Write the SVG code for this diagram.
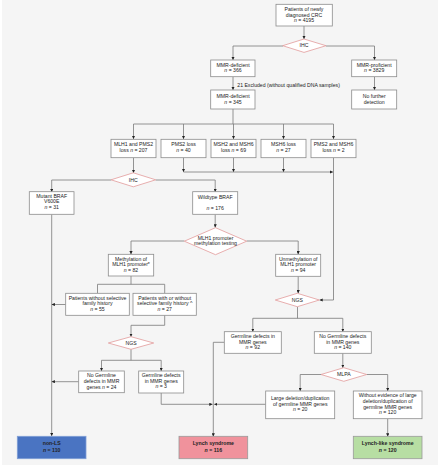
<svg xmlns="http://www.w3.org/2000/svg" width="441" height="465" viewBox="0 0 441 465">
<defs>
<marker id="ah" viewBox="0 0 10 10" refX="10" refY="5" markerWidth="3.2" markerHeight="3.2" markerUnits="userSpaceOnUse" orient="auto">
<path d="M0,0 L10,5 L0,10 z" fill="#222"/>
</marker>
<style>
.bx{fill:#fff;stroke:#8c8c8c;stroke-width:0.8}
.dm{fill:#fff;stroke:#e29a9a;stroke-width:0.8}
.c{fill:none;stroke:#7a7a7a;stroke-width:0.8}
.a{marker-end:url(#ah)}
text{font-family:"Liberation Sans",Arial,sans-serif;font-size:5.15px;fill:#222;text-anchor:middle}
.i{font-style:italic}
.b{font-weight:bold;font-size:5.2px}
.l{text-anchor:start}
</style>
</defs>
<rect x="2" y="0" width="436" height="465" fill="#f5f5f5"/>

<g id="connectors">
<path class="c a" d="M304,26 V39"/>
<path class="c a" d="M283,46 H233 V60"/>
<path class="c a" d="M326,46 H374.5 V60"/>
<path class="c a" d="M233,77 V90"/>
<path class="c a" d="M374.5,77 V90"/>
<path class="c" d="M233,109 V124"/>
<path class="c" d="M133.5,124 H333.5"/>
<path class="c a" d="M133.5,124 V139"/>
<path class="c a" d="M183.5,124 V139"/>
<path class="c a" d="M233.5,124 V139"/>
<path class="c a" d="M283.5,124 V139"/>
<path class="c a" d="M333.5,124 V139"/>
<path class="c a" d="M133.5,157.5 V173"/>
<path class="c a" d="M183.5,157.5 V172"/>
<path class="c a" d="M233.5,157.5 V172"/>
<path class="c a" d="M283.5,157.5 V172"/>
<path class="c a" d="M183.5,172 H333"/>
<path class="c a" d="M333.5,157.5 V300 H319.5"/>
<path class="c a" d="M111,180 H51.7 V192"/>
<path class="c a" d="M155.7,180 H215.2 V192"/>
<path class="c a" d="M51.7,214.5 V436"/>
<path class="c a" d="M215.2,214.5 V227.5"/>
<path class="c a" d="M184.3,241 H131 V254.3"/>
<path class="c a" d="M246.7,241 H298.2 V254.3"/>
<path class="c a" d="M298.2,276.3 V293.3"/>
<path class="c" d="M131,276 V284.3 M97.5,284.3 H164.7 M97.5,284.3 V293.3 M164.7,284.3 V293.3"/>
<path class="c a" d="M65.7,304.5 H51.7"/>
<path class="c a" d="M164.7,315.3 V325.3 H131 V336.7"/>
<path class="c" d="M131,349.3 V360.3 M101.5,360.3 H161.2"/>
<path class="c a" d="M101.5,360.3 V371"/>
<path class="c a" d="M161.2,360.3 V371"/>
<path class="c a" d="M78.7,381.7 H51.7"/>
<path class="c a" d="M161.2,393 V404.3 H212.5"/>
<path class="c a" d="M265.7,404.3 H214.2"/>
<path class="c a" d="M224.3,342.3 H213.3 V436.5"/>
<path class="c" d="M297.5,306.7 V318.3 M252.8,318.3 H342.8"/>
<path class="c a" d="M252.8,318.3 V331.7"/>
<path class="c a" d="M342.8,318.3 V331.7"/>
<path class="c a" d="M342.8,353.3 V367.7"/>
<path class="c a" d="M321,374.5 H300.2 V391"/>
<path class="c a" d="M366.7,374.5 H387.7 V391"/>
<path class="c a" d="M387.7,418.7 V436.5"/>
</g>

<g id="n_start"><rect class="bx" x="276" y="4.3" width="56.3" height="21.7"/>
<text x="304" y="11">Patients of newly</text><text x="304" y="16.7">diagnosed CRC</text><text x="304" y="22.4"><tspan class="i">n</tspan> = 4195</text></g>

<g id="n_ihc1"><polygon class="dm" points="304,39 326,45.7 304,52.4 282.7,45.7"/><text x="304" y="47.4">IHC</text></g>

<g id="n_mmrdef1"><rect class="bx" x="210.7" y="60" width="44.3" height="16.7"/>
<text x="233" y="66.7">MMR-deficient</text><text x="233" y="72.4"><tspan class="i">n</tspan> = 366</text></g>

<g id="n_mmrprof"><rect class="bx" x="351.7" y="60" width="45" height="16.7"/>
<text x="374.2" y="66.7">MMR-proficient</text><text x="374.2" y="72.4"><tspan class="i">n</tspan> = 3829</text></g>

<g id="n_excl"><text class="l" x="237.3" y="87">21 Excluded (without qualified DNA samples)</text></g>

<g id="n_mmrdef2"><rect class="bx" x="210.7" y="90" width="44.3" height="19"/>
<text x="233" y="98.4">MMR-deficient</text><text x="233" y="104"><tspan class="i">n</tspan> = 345</text></g>

<g id="n_nofurther"><rect class="bx" x="351.7" y="90" width="45" height="19"/>
<text x="374.2" y="98.4">No further</text><text x="374.2" y="104">detection</text></g>

<g id="n_mlh1pms2"><rect class="bx" x="111" y="139.3" width="45" height="18.4"/>
<text x="133.5" y="146.4">MLH1 and PMS2</text><text x="133.5" y="152.4">loss <tspan class="i">n</tspan> = 207</text></g>
<g id="n_pms2"><rect class="bx" x="161" y="139.3" width="45" height="18.4"/>
<text x="183.5" y="146.4">PMS2 loss</text><text x="183.5" y="152.4"><tspan class="i">n</tspan> = 40</text></g>
<g id="n_msh2msh6"><rect class="bx" x="211" y="139.3" width="45" height="18.4"/>
<text x="233.5" y="146.4">MSH2 and MSH6</text><text x="233.5" y="152.4">loss <tspan class="i">n</tspan> = 69</text></g>
<g id="n_msh6"><rect class="bx" x="261" y="139.3" width="45" height="18.4"/>
<text x="283.5" y="146.4">MSH6 loss</text><text x="283.5" y="152.4"><tspan class="i">n</tspan> = 27</text></g>
<g id="n_pms2msh6"><rect class="bx" x="311" y="139.3" width="45" height="18.4"/>
<text x="333.5" y="146.4">PMS2 and MSH6</text><text x="333.5" y="152.4">loss <tspan class="i">n</tspan> = 2</text></g>

<g id="n_ihc2"><polygon class="dm" points="133.3,172.8 155.7,179.8 133.3,186.8 111,179.8"/><text x="133.3" y="181.5">IHC</text></g>

<g id="n_mutbraf"><rect class="bx" x="29.3" y="191.7" width="44.7" height="22.6"/>
<text x="51.7" y="197.8">Mutant BRAF</text><text x="51.7" y="203.1">V600E</text><text x="51.7" y="208.5"><tspan class="i">n</tspan> = 31</text></g>

<g id="n_wtbraf"><rect class="bx" x="192.7" y="191.7" width="45" height="22.6"/>
<text x="215.2" y="199">Wildtype BRAF</text><text x="215.2" y="210"><tspan class="i">n</tspan> = 176</text></g>

<g id="n_mlh1test"><polygon class="dm" points="215.5,227.7 246.7,241.2 215.5,254.7 184.3,241.2"/>
<text x="215.5" y="240">MLH1 promoter</text><text x="215.5" y="245.2">methylation testing</text></g>

<g id="n_meth"><rect class="bx" x="108.3" y="254.3" width="45.4" height="21.7"/>
<text x="131" y="260.7">Methylation of</text><text x="131" y="266.4">MLH1 promoter*</text><text x="131" y="272"><tspan class="i">n</tspan> = 82</text></g>

<g id="n_unmeth"><rect class="bx" x="275.7" y="254.3" width="45" height="22"/>
<text x="298.2" y="260.7">Unmethylation of</text><text x="298.2" y="266.4">MLH1 promoter</text><text x="298.2" y="272"><tspan class="i">n</tspan> = 94</text></g>

<g id="n_ngs1"><polygon class="dm" points="297.3,293.3 319.3,300 297.3,306.7 275.3,300"/><text x="297.3" y="301.7">NGS</text></g>

<g id="n_nofam"><rect class="bx" x="65.7" y="293.3" width="63.6" height="22"/>
<text x="97.5" y="299.7">Patients without selective</text><text x="97.5" y="305.4">family history</text><text x="97.5" y="311"><tspan class="i">n</tspan> = 55</text></g>

<g id="n_withfam"><rect class="bx" x="133" y="293.3" width="63.3" height="22"/>
<text x="164.7" y="299.7">Patients with or without</text><text x="164.7" y="305.4">selective family history ^</text><text x="164.7" y="311"><tspan class="i">n</tspan> = 27</text></g>

<g id="n_ngs2"><polygon class="dm" points="131,336.7 153.7,343 131,349.3 108.3,343"/><text x="131" y="344.7">NGS</text></g>

<g id="n_nogerm24"><rect class="bx" x="78.7" y="371" width="45.6" height="21.7"/>
<text x="101.5" y="377">No Germline</text><text x="101.5" y="383">defects in MMR</text><text x="101.5" y="389">genes   <tspan class="i">n</tspan> = 24</text></g>

<g id="n_germ3"><rect class="bx" x="138.7" y="371" width="45" height="22"/>
<text x="161.2" y="377">Germline defects</text><text x="161.2" y="382.7">in MMR genes</text><text x="161.2" y="388.4"><tspan class="i">n</tspan> = 3</text></g>

<g id="n_germ92"><rect class="bx" x="224.3" y="331.7" width="57" height="21.6"/>
<text x="252.8" y="338.4">Germline defects in</text><text x="252.8" y="344">MMR genes</text><text x="252.8" y="349.4"><tspan class="i">n</tspan> = 92</text></g>

<g id="n_nogerm140"><rect class="bx" x="314.3" y="331.7" width="57" height="21.6"/>
<text x="342.8" y="338.4">No Germline defects</text><text x="342.8" y="344">in MMR genes</text><text x="342.8" y="349.4"><tspan class="i">n</tspan> = 140</text></g>

<g id="n_mlpa"><polygon class="dm" points="343.8,367.7 366.7,374.5 343.8,381.3 321,374.5"/><text x="343.8" y="376.2">MLPA</text></g>

<g id="n_largedel"><rect class="bx" x="265.7" y="391" width="69" height="27.7"/>
<text x="300.2" y="400">Large deletion/duplication</text><text x="300.2" y="405.7">of germline MMR genes</text><text x="300.2" y="411.4"><tspan class="i">n</tspan> = 20</text></g>

<g id="n_without"><rect class="bx" x="353.3" y="391" width="68.7" height="27.7"/>
<text x="387.7" y="397.4">Without evidence of large</text><text x="387.7" y="403">deletion/duplication of</text><text x="387.7" y="408.7">germline MMR genes</text><text x="387.7" y="414"><tspan class="i">n</tspan> = 120</text></g>

<g id="n_nonls"><rect x="17.3" y="436.3" width="68.7" height="22.4" fill="#4a74c2" stroke="#7f9fd6" stroke-width="0.8"/>
<text class="b" x="51.7" y="445">non-LS</text><text class="b" x="51.7" y="451.8"><tspan class="i">n</tspan> = 110</text></g>

<g id="n_lynch"><rect x="179" y="436.3" width="68.7" height="22.4" fill="#f0929c" stroke="#9a9a9a" stroke-width="0.8"/>
<text class="b" x="213.3" y="445">Lynch syndrome</text><text class="b" x="213.3" y="451.8"><tspan class="i">n</tspan> = 116</text></g>

<g id="n_lynchlike"><rect x="353.3" y="436.3" width="68.7" height="22.4" fill="#b7dea3" stroke="#9a9a9a" stroke-width="0.8"/>
<text class="b" x="387.7" y="445">Lynch-like syndrome</text><text class="b" x="387.7" y="451.8"><tspan class="i">n</tspan> = 120</text></g>
</svg>
